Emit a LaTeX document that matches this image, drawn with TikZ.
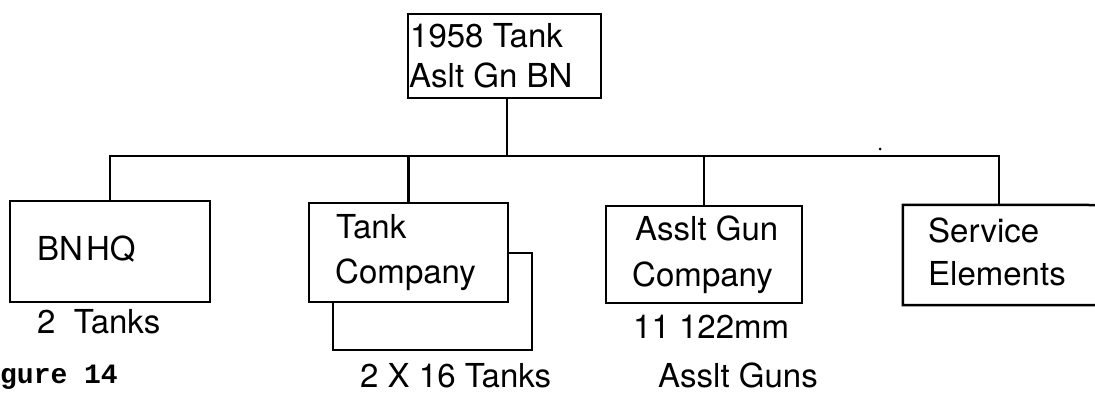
\documentclass[tikz,border=0pt]{standalone}
\usepackage{fontspec}
\setmainfont{TeX Gyre Heros}
\setmonofont{Liberation Mono}
\begin{document}
\begin{tikzpicture}[x=1pt,y=-1pt,
  box/.style={draw,line width=2.5pt,fill=white,inner sep=0pt,minimum width=#1},
  lbl/.style={anchor=base west,inner sep=0pt,font=\fontsize{33}{40}\selectfont},
  conn/.style={line width=2.5pt}]
\useasboundingbox (0,0) rectangle (1095,392);
% top box
\node[box=193pt,minimum height=84pt] (top) at (504.5,56) {};
\node[lbl] (t1) at (410,47) {1958 Tank};
\node[lbl] (t2) at (409,87) {Aslt Gn BN};
% BN HQ
\node[box=200pt,minimum height=101pt] (hq) at (110,251.5) {};
\node[lbl] (hqt) at (37,260) {BN\kern3pt HQ};
\node[lbl] (hqs) at (37,333) {2\ \ Tanks};
% Tank company with back box
\node[box=199pt,minimum height=97pt] (tankback) at (432.5,301.5) {};
\node[box=199pt,minimum height=99pt] (tank) at (408.5,252.5) {};
\node[lbl] (tk1) at (336,238) {Tank};
\node[lbl] (tk2) at (335,283) {Company};
\node[lbl] (tks) at (360,387) {2 X 16 Tanks};
% Assault gun company
\node[box=196pt,minimum height=97pt] (ag) at (704,254.5) {};
\node[lbl] (ag1) at (635,240) {Asslt Gun};
\node[lbl] (ag2) at (632,286) {Company};
\node[lbl] (ags1) at (633,338) {11 122mm};
\node[lbl] (ags2) at (658,387) {Asslt Guns};
% Service elements (box runs past the right edge)
\node[inner sep=0pt,minimum width=192pt,minimum height=100pt] (svc) at (999,255) {};
\coordinate (svcTR) at (1096,205);
\coordinate (svcBR) at (1096,305);
\draw[conn] (svcTR) -- (svc.north west) -- (svc.south west) -- (svcBR);
\node[lbl] (sv1) at (928,242) {Service};
\node[lbl] (sv2) at (928,285) {Elements};
% figure caption (as printed, cut at the left edge)
\node[anchor=base west,inner sep=0pt,font=\ttfamily\bfseries\fontsize{28}{34}\selectfont] (fig) at (0,383) {gure 14};
% connectors
\coordinate (bus) at (507,156);
\draw[conn] (top.south -| bus) -- (bus);
\draw[conn] (hq.north) -- (hq.north |- bus) -- (svc.north |- bus) -- (svc.north);
\draw[conn] (tank.north) -- (tank.north |- bus);
\draw[conn] (ag.north) -- (ag.north |- bus);
% speck
\fill (880,149) circle (1.5);
\end{tikzpicture}
\end{document}
